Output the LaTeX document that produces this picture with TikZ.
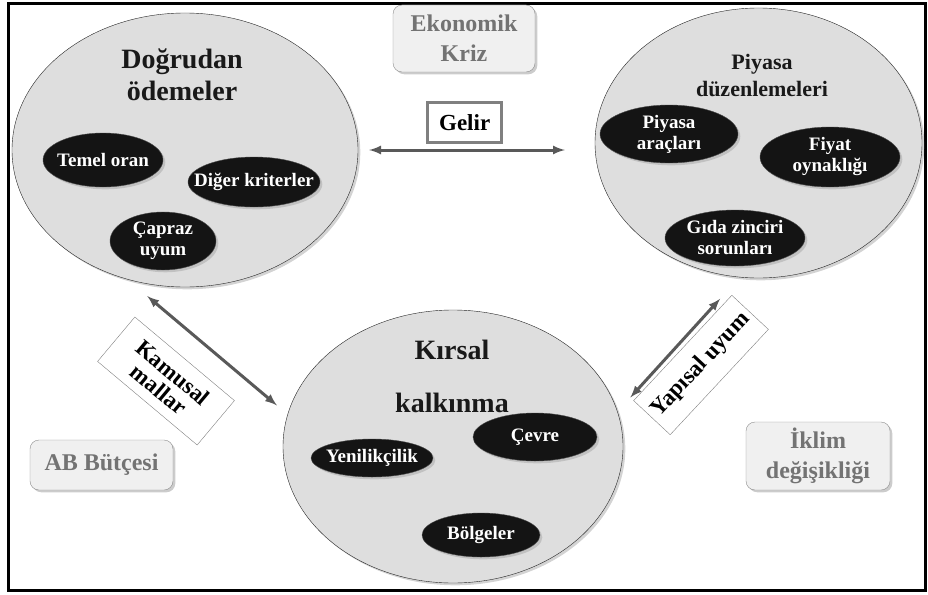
\documentclass[tikz,border=0pt]{standalone}
\usepackage{fontspec}
\setmainfont{Liberation Serif}
\usetikzlibrary{shapes.geometric,shadows}

\begin{document}
\begin{tikzpicture}[x=1pt, y=-1pt,
        alan/.style={draw=black!85, fill=black!13, ellipse, inner sep=0pt, drop shadow={opacity=0.35}},
        konu/.style={draw=black!70, fill=black!92, ellipse, inner xsep=-40pt, inner ysep=-20pt, text=white, align=center, font=\fontsize{19}{21}\selectfont\bfseries, drop shadow={opacity=0.3}},
        baslik/.style={align=center, text=black!90, font=\fontsize{28}{32}\selectfont\bfseries},
        etken/.style={draw=black!45, fill=black!6, rounded corners=9pt, text=black!55, align=center, font=\fontsize{24}{30}\selectfont\bfseries, drop shadow={opacity=0.4}},
        etiket/.style={draw=black!50, fill=white, align=center, inner sep=0pt, font=\fontsize{23}{22}\selectfont\bfseries},
        bag/.style={latex-latex, line width=3pt, draw=black!65}]
    \useasboundingbox (0,0) rectangle (928,594);
    \draw[line width=3pt] (8,4) rectangle (925,590);

    \node[alan, minimum width=346pt, minimum height=274pt] (odeme) at (185,150) {};
    \node[alan, minimum width=327pt, minimum height=270pt] (piyasa) at (758.5,143) {};
    \node[alan, minimum width=340pt, minimum height=273pt] (kirsal) at (453,446.5) {};

    \node[baslik] (odemeT) at (182,75) {Doğrudan\\ödemeler};
    \node[baslik, font=\fontsize{22}{27}\selectfont\bfseries] (piyasaT) at (762,76) {Piyasa\\düzenlemeleri};
    \node[baslik, font=\fontsize{28}{53}\selectfont\bfseries] (kirsalT) at (452,376) {Kırsal\\kalkınma};

    \node[konu, minimum width=120pt, minimum height=54pt] (temel) at (103,160) {Temel oran};
    \node[konu, minimum width=132pt, minimum height=50pt] (diger) at (254,182) {Diğer kriterler};
    \node[konu, minimum width=106pt, minimum height=58pt] (capraz) at (163,241) {Çapraz\\uyum};
    \node[konu, minimum width=138pt, minimum height=58pt] (arac) at (669,134) {Piyasa\\araçları};
    \node[konu, minimum width=140pt, minimum height=60pt] (fiyat) at (830,157) {Fiyat\\oynaklığı};
    \node[konu, minimum width=140pt, minimum height=56pt] (gida) at (735,238) {Gıda zinciri\\sorunları};
    \node[konu, minimum width=122pt, minimum height=38pt] (yeni) at (372,458) {Yenilikçilik};
    \node[konu, minimum width=124pt, minimum height=48pt] (cevre) at (535,437) {Çevre};
    \node[konu, minimum width=118pt, minimum height=44pt] (bolge) at (481,535) {Bölgeler};

    \node[etken, minimum width=142pt, minimum height=67pt] (kriz) at (464,38.5) {Ekonomik\\Kriz};
    \node[etken, minimum width=143pt, minimum height=50pt] (butce) at (101.5,465) {AB Bütçesi};
    \node[etken, minimum width=144pt, minimum height=68pt] (iklim) at (818,456) {İklim\\değişikliği};

    \draw[bag, shorten <=11pt, shorten >=30pt] (odeme.east) -- node[etiket, pos=0.45, above=6pt, minimum width=74pt, minimum height=40pt] (gelir) {Gelir} (odeme.east -| piyasa.west);
    \draw[bag, shorten <=26pt, shorten >=14pt] (odeme.-114) -- (kirsal.169);
    \draw[bag, shorten <=19pt, shorten >=29pt] (kirsal.12.6) -- (piyasa.-98);

    \node[etiket, rotate=-40, minimum width=130pt, minimum height=58pt] (kamusal) at (166,381) {Kamusal\\mallar};
    \node[etiket, rotate=47, minimum width=144pt, minimum height=50pt] (yapisal) at (701,365) {Yapısal uyum};
\end{tikzpicture}
\end{document}
